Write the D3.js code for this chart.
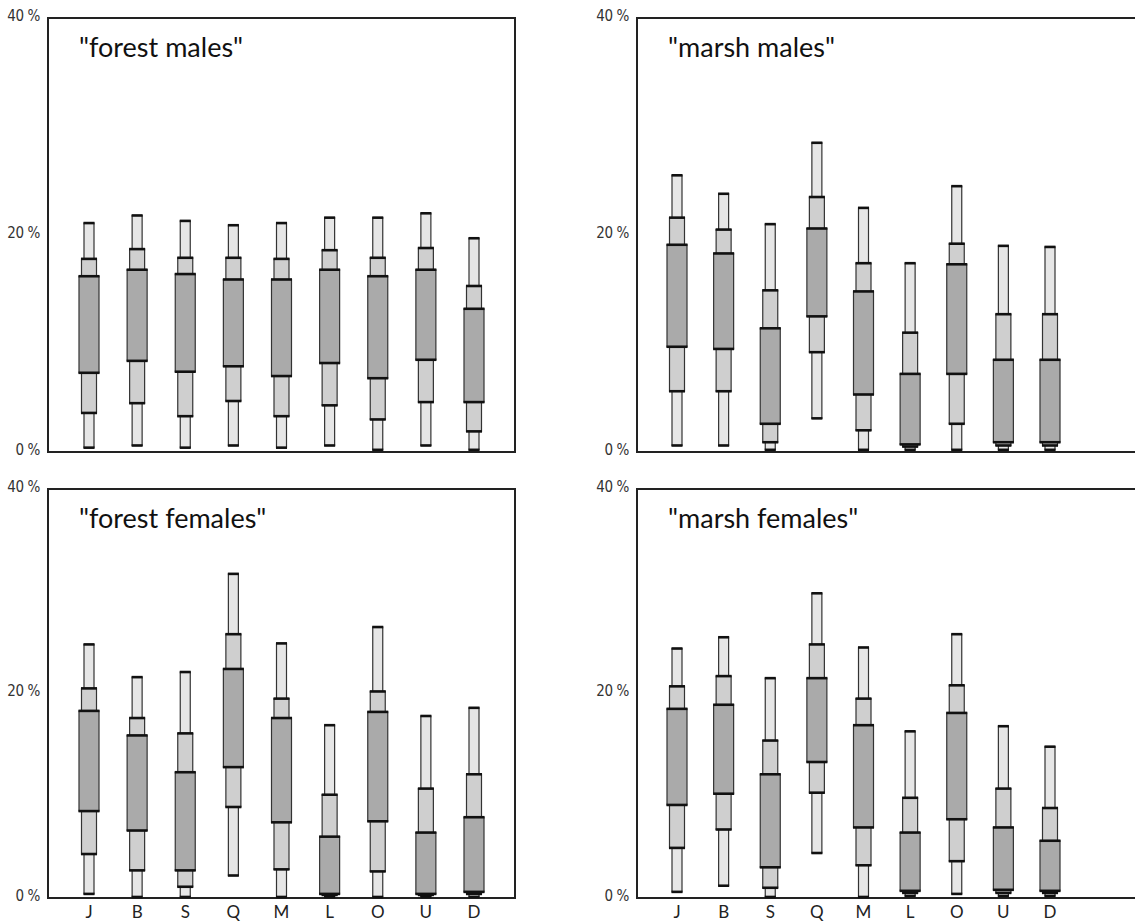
<!DOCTYPE html>
<html><head><meta charset="utf-8">
<script src="https://cdn.jsdelivr.net/npm/d3@7"></script>
<style>
html,body{margin:0;padding:0;background:#fff;overflow:hidden;}
svg{display:block;}
.tick-y{font-family:"DejaVu Sans Condensed","Liberation Sans Narrow","Liberation Sans",sans-serif;font-size:15px;fill:#333;letter-spacing:-0.4px;}
.tick-x{font-family:Lato,"Open Sans",sans-serif;font-size:17px;fill:#222;}
.title{font-family:Lato,"Open Sans",sans-serif;font-size:27px;fill:#111;}
</style></head>
<body>
<script>
// categories
const categories = ["J","B","S","Q","M","L","O","U","D"];
const yTicks = [0, 20, 40];
const tickLabels = ["0 %", "20 %", "40 %"];
const panelTitles = ['"forest males"', '"marsh males"', '"forest females"', '"marsh females"'];
// each row: [low outer, low middle, low inner, high inner, high middle, high outer] (%)
const forestMales = [
  [0.4, 3.6, 7.3, 16.2, 17.8, 21.1],
  [0.6, 4.5, 8.4, 16.8, 18.7, 21.8],
  [0.4, 3.3, 7.4, 16.4, 17.9, 21.3],
  [0.6, 4.7, 7.9, 15.9, 17.9, 20.9],
  [0.4, 3.3, 7.0, 15.9, 17.8, 21.1],
  [0.6, 4.3, 8.2, 16.8, 18.6, 21.6],
  [0.2, 3.0, 6.8, 16.2, 17.9, 21.6],
  [0.6, 4.6, 8.5, 16.8, 18.8, 22.0],
  [0.2, 1.9, 4.6, 13.2, 15.3, 19.7]
];
const marshMales = [
  [0.6, 5.6, 9.7, 19.1, 21.6, 25.5],
  [0.6, 5.6, 9.5, 18.3, 20.5, 23.8],
  [0.2, 0.9, 2.6, 11.4, 14.9, 21.0],
  [3.1, 9.2, 12.5, 20.6, 23.5, 28.5],
  [0.2, 2.0, 5.3, 14.8, 17.4, 22.5],
  [0.2, 0.5, 0.7, 7.2, 11.0, 17.4],
  [0.2, 2.6, 7.2, 17.3, 19.2, 24.5],
  [0.2, 0.6, 0.9, 8.5, 12.7, 19.0],
  [0.2, 0.6, 0.9, 8.5, 12.7, 18.9]
];
const forestFemales = [
  [0.4, 4.3, 8.5, 18.3, 20.5, 24.8],
  [0.1, 2.7, 6.6, 15.9, 17.6, 21.6],
  [0.1, 1.1, 2.7, 12.3, 16.1, 22.1],
  [2.2, 8.9, 12.8, 22.4, 25.8, 31.7],
  [0.1, 2.8, 7.4, 17.6, 19.5, 24.9],
  [0.1, 0.3, 0.4, 6.0, 10.1, 16.9],
  [0.1, 2.6, 7.5, 18.2, 20.2, 26.5],
  [0.1, 0.3, 0.4, 6.4, 10.7, 17.8],
  [0.1, 0.4, 0.6, 7.9, 12.1, 18.6]
];
const marshFemales = [
  [0.6, 4.9, 9.1, 18.5, 20.7, 24.4],
  [1.2, 6.7, 10.2, 18.9, 21.7, 25.5],
  [0.1, 1.0, 3.0, 12.1, 15.4, 21.5],
  [4.4, 10.3, 13.3, 21.5, 24.8, 29.8],
  [0.1, 3.2, 6.9, 16.9, 19.5, 24.5],
  [0.2, 0.5, 0.7, 6.4, 9.8, 16.3],
  [0.4, 3.6, 7.7, 18.1, 20.8, 25.8],
  [0.2, 0.5, 0.8, 6.9, 10.7, 16.8],
  [0.2, 0.5, 0.7, 5.6, 8.8, 14.8]
];

const W = 1135, H = 924;
const svg = d3.select("body").append("svg").attr("width", W).attr("height", H);

const panels = [
  {data: forestMales,   title: panelTitles[0], left: 48,  right: 515,  top: 18,  bottom: 452, xr: [89, 474],   xLabels: false},
  {data: marshMales,    title: panelTitles[1], left: 637, right: 1140, top: 18,  bottom: 452, xr: [677, 1050], xLabels: false},
  {data: forestFemales, title: panelTitles[2], left: 48,  right: 515,  top: 489, bottom: 898, xr: [89, 474],   xLabels: true},
  {data: marshFemales,  title: panelTitles[3], left: 637, right: 1140, top: 489, bottom: 898, xr: [677, 1050], xLabels: true}
];

const levels = [
  {lo: 0, hi: 5, w: 10, fill: "#e6e6e6"},
  {lo: 1, hi: 4, w: 15, fill: "#cfcfcf"},
  {lo: 2, hi: 3, w: 20, fill: "#aaaaaa"}
];

panels.forEach(p => {
  const x = d3.scalePoint().domain(categories).range(p.xr);
  const y = d3.scaleLinear().domain([0, 40]).range([p.bottom, p.top]);
  const g = svg.append("g");

  // frame
  g.append("rect").attr("x", p.left).attr("y", p.top)
    .attr("width", p.right - p.left).attr("height", p.bottom - p.top)
    .attr("fill", "none").attr("stroke", "#222").attr("stroke-width", 2);

  // y tick labels
  g.selectAll("text.tick-y").data(yTicks).enter().append("text")
    .attr("class", "tick-y")
    .attr("x", p.left - 8)
    .attr("y", d => y(d) - 2)
    .attr("text-anchor", "end")
    .attr("dominant-baseline", "middle")
    .text((d, i) => tickLabels[i]);

  // title
  g.append("text").attr("class", "title")
    .attr("x", p.left + 31).attr("y", p.top + 39)
    .text(p.title);

  // bars
  levels.forEach(lv => {
    const bg = g.append("g");
    bg.selectAll("rect").data(p.data).enter().append("rect")
      .attr("x", (d, i) => x(categories[i]) - lv.w / 2)
      .attr("y", d => y(d[lv.hi]))
      .attr("width", lv.w)
      .attr("height", d => y(d[lv.lo]) - y(d[lv.hi]))
      .attr("fill", lv.fill)
      .attr("stroke", "#333").attr("stroke-width", 1.2);
    [lv.hi, lv.lo].forEach(k => {
      bg.selectAll("line.e" + k).data(p.data).enter().append("line")
        .attr("class", "e" + k)
        .attr("x1", (d, i) => x(categories[i]) - lv.w / 2 - 0.5)
        .attr("x2", (d, i) => x(categories[i]) + lv.w / 2 + 0.5)
        .attr("y1", d => y(d[k])).attr("y2", d => y(d[k]))
        .attr("stroke", "#111").attr("stroke-width", 2.6);
    });
  });

  if (p.xLabels) {
    g.selectAll("text.tick-x").data(categories).enter().append("text")
      .attr("class", "tick-x")
      .attr("x", d => x(d))
      .attr("y", p.bottom + 20)
      .attr("text-anchor", "middle")
      .text(d => d);
  }
});
</script>
</body></html>
